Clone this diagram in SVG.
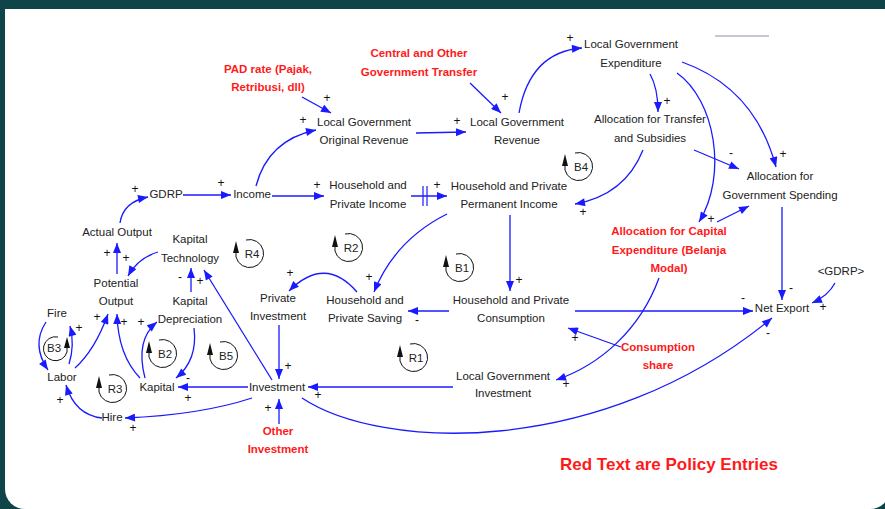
<svg xmlns="http://www.w3.org/2000/svg" width="885" height="509" viewBox="0 0 885 509">
<style>
.t{font-family:"Liberation Sans",Arial,sans-serif;font-size:11.5px;fill:#222;text-anchor:middle}
.r{font-family:"Liberation Sans",Arial,sans-serif;font-size:11.5px;font-weight:bold;fill:#ff1a1a;text-anchor:middle}
.p{font-family:"Liberation Sans",Arial,sans-serif;font-size:12px;fill:#111;text-anchor:middle}
.c{fill:none;stroke:#1a1aff;stroke-width:1.3;marker-end:url(#ah)}
.lp{fill:none;stroke:#111;stroke-width:1}
</style>
<defs>
<marker id="ah" viewBox="0 0 10 8" refX="10" refY="4" markerWidth="11" markerHeight="8" markerUnits="userSpaceOnUse" orient="auto">
<path d="M0,0 L10,4 L0,8 Z" fill="#1a1aff"/>
</marker>
</defs>
<rect x="0" y="0" width="885" height="509" fill="#0f4548"/>
<path d="M5,9 H890 V489 A20,20 0 0 1 870,509 H25 A20,20 0 0 1 5,489 Z" fill="#fff"/>
<line x1="715" y1="36" x2="769" y2="36" stroke="#c8c8d2" stroke-width="2"/>

<g id="connectors">
<path class="c" d="M302,97 L331,113"/>
<path class="c" d="M470,83 L501,113"/>
<path class="c" d="M416,133 L466,132"/>
<path class="c" d="M256,186 Q268,140 316,130"/>
<path class="c" d="M519,113 Q530,52 582,48"/>
<path class="c" d="M650,74 Q658,88 658,112"/>
<path class="c" d="M677,73 C715,100 728,175 699,222"/>
<path class="c" d="M682,62 Q755,88 776,167"/>
<path class="c" d="M694,150 L739,169"/>
<path class="c" d="M643,150 Q625,195 575,204"/>
<path class="c" d="M717,222 L749,206"/>
<path class="c" d="M782,207 L782,300"/>
<path class="c" d="M835,283 Q828,296 812,303"/>
<path class="c" d="M575,311 L753,311"/>
<path class="c" d="M302,398 C380,450 600,460 772,318"/>
<path class="c" d="M659,278 C640,330 600,365 556,380"/>
<path class="c" d="M621,347 L568,328"/>
<path class="c" d="M453,387 L308,387"/>
<path class="c" d="M510,215 L510,291"/>
<path class="c" d="M447,214 Q395,240 374,292"/>
<path class="c" d="M357,292 Q325,255 289,291"/>
<path class="c" d="M449,311 L408,311"/>
<path class="c" d="M411,196 L447,196"/>
<line x1="423" y1="186" x2="423" y2="206" stroke="#1a1aff" stroke-width="1.2"/>
<line x1="427" y1="186" x2="427" y2="206" stroke="#1a1aff" stroke-width="1.2"/>
<path class="c" d="M272,196 L324,196"/>
<path class="c" d="M183,195 L231,195"/>
<path class="c" d="M120,223 Q123,202 148,197"/>
<path class="c" d="M117,274 L117,243"/>
<path class="c" d="M158,252 Q138,258 128,276"/>
<path class="c" d="M191,292 L191,268"/>
<path class="c" d="M272,380 L204,270"/>
<path class="c" d="M279,325 L279,379"/>
<path class="c" d="M279,424 L279,399"/>
<path class="c" d="M248,387 L178,387"/>
<path class="c" d="M194,328 Q198,360 176,378"/>
<path class="c" d="M145,378 Q135,340 157,322"/>
<path class="c" d="M140,378 Q118,355 117,314"/>
<path class="c" d="M75,368 Q95,350 108,314"/>
<path class="c" d="M69,364 Q75,345 70,326"/>
<path class="c" d="M46,322 Q31,345 48,370"/>
<path class="c" d="M102,418 Q75,415 66,385"/>
<path class="c" d="M252,398 Q200,415 125,418"/>
</g>

<g id="polarity">
<text class="p" x="327" y="102">+</text>
<text class="p" x="505" y="101">+</text>
<text class="p" x="457" y="125">+</text>
<text class="p" x="303" y="124">+</text>
<text class="p" x="570" y="42">+</text>
<text class="p" x="667" y="105">+</text>
<text class="p" x="711" y="223">+</text>
<text class="p" x="783" y="158">+</text>
<text class="p" x="731" y="157">-</text>
<text class="p" x="583" y="216">+</text>
<text class="p" x="791" y="292">-</text>
<text class="p" x="823" y="311">+</text>
<text class="p" x="743" y="302">-</text>
<text class="p" x="768" y="337">-</text>
<text class="p" x="566" y="388">+</text>
<text class="p" x="575" y="342">+</text>
<text class="p" x="318" y="399">+</text>
<text class="p" x="519" y="284">+</text>
<text class="p" x="369" y="281">+</text>
<text class="p" x="290" y="277">+</text>
<text class="p" x="417" y="324">-</text>
<text class="p" x="437" y="189">+</text>
<text class="p" x="317" y="189">+</text>
<text class="p" x="221" y="187">+</text>
<text class="p" x="135" y="193">+</text>
<text class="p" x="107" y="257">+</text>
<text class="p" x="126" y="262">+</text>
<text class="p" x="180" y="281">-</text>
<text class="p" x="200" y="285">+</text>
<text class="p" x="288" y="370">+</text>
<text class="p" x="268" y="412">+</text>
<text class="p" x="188" y="402">+</text>
<text class="p" x="188" y="382">-</text>
<text class="p" x="141" y="326">+</text>
<text class="p" x="124" y="326">+</text>
<text class="p" x="97" y="321">+</text>
<text class="p" x="79" y="332">+</text>
<text class="p" x="60" y="404">+</text>
<text class="p" x="133" y="432">+</text>
</g>

<g id="loops">
<g transform="translate(579,167)"><path class="lp" d="M-4,-14 A14,14 0 1 1 -14,3 V-3"/><path d="M-14,-13 L-17,-1 L-11,-1 Z" fill="#111"/><text class="t" x="2" y="4">B4</text></g>
<g transform="translate(250,254)"><path class="lp" d="M-4,-14 A14,14 0 1 1 -14,3 V-3"/><path d="M-14,-13 L-17,-1 L-11,-1 Z" fill="#111"/><text class="t" x="2" y="4">R4</text></g>
<g transform="translate(349,248)"><path class="lp" d="M-4,-14 A14,14 0 1 1 -14,3 V-3"/><path d="M-14,-13 L-17,-1 L-11,-1 Z" fill="#111"/><text class="t" x="2" y="4">R2</text></g>
<g transform="translate(460,268)"><path class="lp" d="M-4,-14 A14,14 0 1 1 -14,3 V-3"/><path d="M-14,-13 L-17,-1 L-11,-1 Z" fill="#111"/><text class="t" x="2" y="4">B1</text></g>
<g transform="translate(163,354)"><path class="lp" d="M-4,-14 A14,14 0 1 1 -14,3 V-3"/><path d="M-14,-13 L-17,-1 L-11,-1 Z" fill="#111"/><text class="t" x="2" y="4">B2</text></g>
<g transform="translate(224,356)"><path class="lp" d="M-4,-14 A14,14 0 1 1 -14,3 V-3"/><path d="M-14,-13 L-17,-1 L-11,-1 Z" fill="#111"/><text class="t" x="2" y="4">B5</text></g>
<g transform="translate(113,389)"><path class="lp" d="M-4,-14 A14,14 0 1 1 -14,3 V-3"/><path d="M-14,-13 L-17,-1 L-11,-1 Z" fill="#111"/><text class="t" x="2" y="4">R3</text></g>
<g transform="translate(414,358)"><path class="lp" d="M-4,-14 A14,14 0 1 1 -14,3 V-3"/><path d="M-14,-13 L-17,-1 L-11,-1 Z" fill="#111"/><text class="t" x="2" y="4">R1</text></g>
<g transform="translate(55,349)"><path class="lp" d="M3,-12 A12,12 0 1 0 12,3 V-3"/><path d="M12,-12 L9,-1 L15,-1 Z" fill="#111"/><text class="t" x="-1" y="3">B3</text></g>
</g>

<g id="n-pad"><text class="r" x="268" y="73">PAD rate (Pajak,<tspan x="268" dy="18">Retribusi, dll)</tspan></text></g>
<g id="n-central"><text class="r" x="419" y="57">Central and Other<tspan x="419" dy="19">Government Transfer</tspan></text></g>
<g id="n-lgor"><text class="t" x="364" y="126">Local Government<tspan x="364" dy="18">Original Revenue</tspan></text></g>
<g id="n-lgr"><text class="t" x="517" y="126">Local Government<tspan x="517" dy="18">Revenue</tspan></text></g>
<g id="n-lge"><text class="t" x="631" y="48">Local Government<tspan x="631" dy="19">Expenditure</tspan></text></g>
<g id="n-at"><text class="t" x="650" y="123">Allocation for Transfer<tspan x="650" dy="19">and Subsidies</tspan></text></g>
<g id="n-ags"><text class="t" x="780" y="180">Allocation for<tspan x="780" dy="19">Government Spending</tspan></text></g>
<g id="n-gdrp"><text class="t" x="166" y="198">GDRP</text></g>
<g id="n-income"><text class="t" x="252" y="198">Income</text></g>
<g id="n-hpi"><text class="t" x="368" y="189">Household and<tspan x="368" dy="19">Private Income</tspan></text></g>
<g id="n-hppi"><text class="t" x="509" y="190">Household and Private<tspan x="509" dy="18">Permanent Income</tspan></text></g>
<g id="n-ao"><text class="t" x="117" y="236">Actual Output</text></g>
<g id="n-kt"><text class="t" x="190" y="243">Kapital<tspan x="190" dy="19">Technology</tspan></text></g>
<g id="n-po"><text class="t" x="116" y="287">Potential<tspan x="116" dy="18">Output</tspan></text></g>
<g id="n-kd"><text class="t" x="190" y="305">Kapital<tspan x="190" dy="18">Depreciation</tspan></text></g>
<g id="n-pi"><text class="t" x="278" y="302">Private<tspan x="278" dy="18">Investment</tspan></text></g>
<g id="n-hps"><text class="t" x="365" y="304">Household and<tspan x="365" dy="18">Private Saving</tspan></text></g>
<g id="n-hpc"><text class="t" x="511" y="304">Household and Private<tspan x="511" dy="18">Consumption</tspan></text></g>
<g id="n-ace"><text class="r" x="669" y="235">Allocation for Capital<tspan x="669" dy="18.5">Expenditure (Belanja</tspan><tspan x="669" dy="18.5">Modal)</tspan></text></g>
<g id="n-gdrp2"><text class="t" x="841" y="275">&lt;GDRP&gt;</text></g>
<g id="n-ne"><text class="t" x="782" y="312">Net Export</text></g>
<g id="n-fire"><text class="t" x="57" y="317">Fire</text></g>
<g id="n-labor"><text class="t" x="62" y="381">Labor</text></g>
<g id="n-kapital"><text class="t" x="157" y="391">Kapital</text></g>
<g id="n-hire"><text class="t" x="112" y="421">Hire</text></g>
<g id="n-inv"><text class="t" x="277" y="391">Investment</text></g>
<g id="n-oi"><text class="r" x="278" y="435">Other<tspan x="278" dy="18">Investment</tspan></text></g>
<g id="n-lgi"><text class="t" x="503" y="380">Local Government<tspan x="503" dy="17">Investment</tspan></text></g>
<g id="n-cs"><text class="r" x="658" y="351">Consumption<tspan x="658" dy="18">share</tspan></text></g>
<g id="n-note"><text x="560" y="470" style="font-family:'Liberation Sans',Arial,sans-serif;font-size:17px;font-weight:bold;fill:#ff1a1a">Red Text are Policy Entries</text></g>
</svg>
